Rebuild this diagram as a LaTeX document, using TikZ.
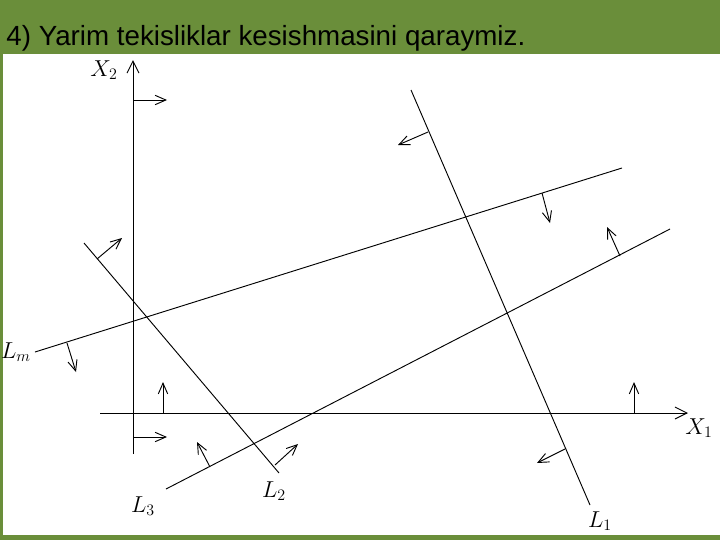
\documentclass[tikz,border=0pt]{standalone}
\usepackage{fontspec}
\setmainfont{Liberation Sans}
\usetikzlibrary{arrows.meta}
\definecolor{slidegreen}{RGB}{106,142,58}

\begin{document}
\begin{tikzpicture}[x=0.75pt,y=-0.75pt,line width=0.7pt,
    axis/.style={-{Straight Barb[length=9pt,width=9pt]}},
    halfplane/.style={-{Straight Barb[length=8pt,width=7pt]}},
    lbl/.style={font=\fontsize{17}{19}\selectfont,inner sep=1pt}]
    \useasboundingbox (0,0) rectangle (720,540);
    % slide background
    \fill[slidegreen] (0,0) rectangle (720,540);
    \fill[white] (3,54) rectangle (720,535);
    \node[anchor=base west,inner sep=0pt,font=\fontsize{20.8}{25}\selectfont] (title) at (6,45) {4) Yarim tekisliklar kesishmasini qaraymiz.};
    % axes
    \draw[axis] (100,413) -- (688,413);
    \draw[axis] (133,454) -- (133,60);
    \node[lbl] (x1) at (699,428) {$X_1$};
    \node[lbl] (x2) at (104,70) {$X_2$};
    % half planes x1>=0, x2>=0
    \draw[halfplane] (133,100) -- (167,100);
    \draw[halfplane] (133,437) -- (167,437);
    \draw[halfplane] (163,413) -- (163,382);
    \draw[halfplane] (634,413) -- (634,382);
    % L1
    \draw (411,90) -- (590,505);
    \draw[halfplane] (428,132) -- (398,145);
    \draw[halfplane] (565,449) -- (537,463);
    \node[lbl] (l1) at (600,521) {$L_1$};
    % L2
    \draw (84,243) -- (279,473);
    \draw[halfplane] (97,259) -- (122,238);
    \draw[halfplane] (275,465) -- (298,444);
    \node[lbl] (l2) at (274,491) {$L_2$};
    % L3
    \draw (166,489) -- (670,229);
    \draw[halfplane] (210,467) -- (197,442);
    \draw[halfplane] (620,256) -- (607,227);
    \node[lbl] (l3) at (143,506) {$L_3$};
    % Lm
    \draw (35,352) -- (622,168);
    \draw[halfplane] (67,343) -- (76,372);
    \draw[halfplane] (542,193) -- (550,223);
    \node[lbl] (lm) at (16,352) {$L_m$};
\end{tikzpicture}
\end{document}
